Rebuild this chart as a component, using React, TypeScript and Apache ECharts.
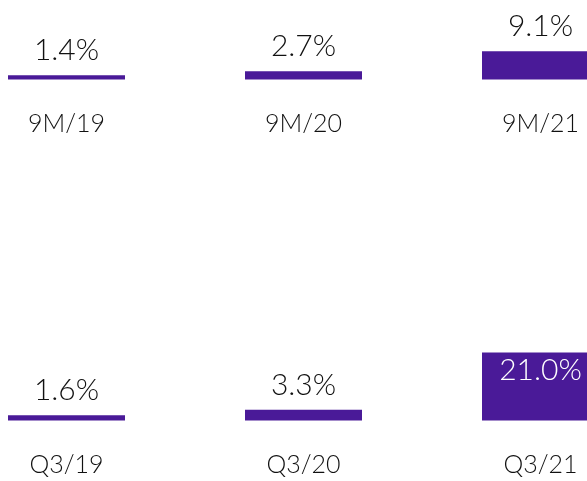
import React, { useEffect, useRef } from "react";
import * as echarts from "echarts";

const topCategories = ["9M/19", "9M/20", "9M/21"];
const topValues = [1.4, 2.7, 9.1];
const bottomCategories = ["Q3/19", "Q3/20", "Q3/21"];
const bottomValues = [1.6, 3.3, 21.0];

const BAR = "#4a1a98";
const FONT = "Lato";

export default function App() {
  const ref = useRef<HTMLDivElement>(null);
  useEffect(() => {
    if (!ref.current) return;
    const chart = echarts.init(ref.current, null, { renderer: "svg" });
    const fmt = (p: any) => Number(p.value).toFixed(1) + "%";
    const labelBase = {
      show: true,
      position: "top",
      distance: 12,
      fontSize: 30,
      fontFamily: FONT,
      fontWeight: 300,
      color: "#111",
      formatter: fmt,
    };
    const xAxisBase = (gridIndex: number, data: string[]) => ({
      type: "category",
      gridIndex,
      data,
      axisLine: { show: false },
      axisTick: { show: false },
      axisLabel: { margin: 30, fontSize: 25, fontFamily: FONT, fontWeight: 300, color: "#111" },
    });
    chart.setOption({
      animation: false,
      grid: [
        { left: 0, right: 0, top: 48.5, height: 31 },
        { left: 0, right: 0, top: 352.5, height: 68 },
      ],
      xAxis: [xAxisBase(0, topCategories), xAxisBase(1, bottomCategories)],
      yAxis: [
        { type: "value", gridIndex: 0, min: 0, max: 10, show: false },
        { type: "value", gridIndex: 1, min: 0, max: 21, show: false },
      ],
      series: [
        {
          type: "bar",
          xAxisIndex: 0,
          yAxisIndex: 0,
          barWidth: 117,
          itemStyle: { color: BAR },
          label: labelBase,
          data: topValues,
        },
        {
          type: "bar",
          xAxisIndex: 1,
          yAxisIndex: 1,
          barWidth: 117,
          itemStyle: { color: BAR },
          label: labelBase,
          data: bottomValues.map((v, i) =>
            i === bottomValues.length - 1
              ? { value: v, label: { position: "insideTop", distance: 0, color: "#fff" } }
              : v
          ),
        },
      ],
    });
    return () => chart.dispose();
  }, []);
  return (
    <div
      ref={ref}
      style={{ position: "fixed", left: -52, top: 0, width: 711, height: 481 }}
    />
  );
}
